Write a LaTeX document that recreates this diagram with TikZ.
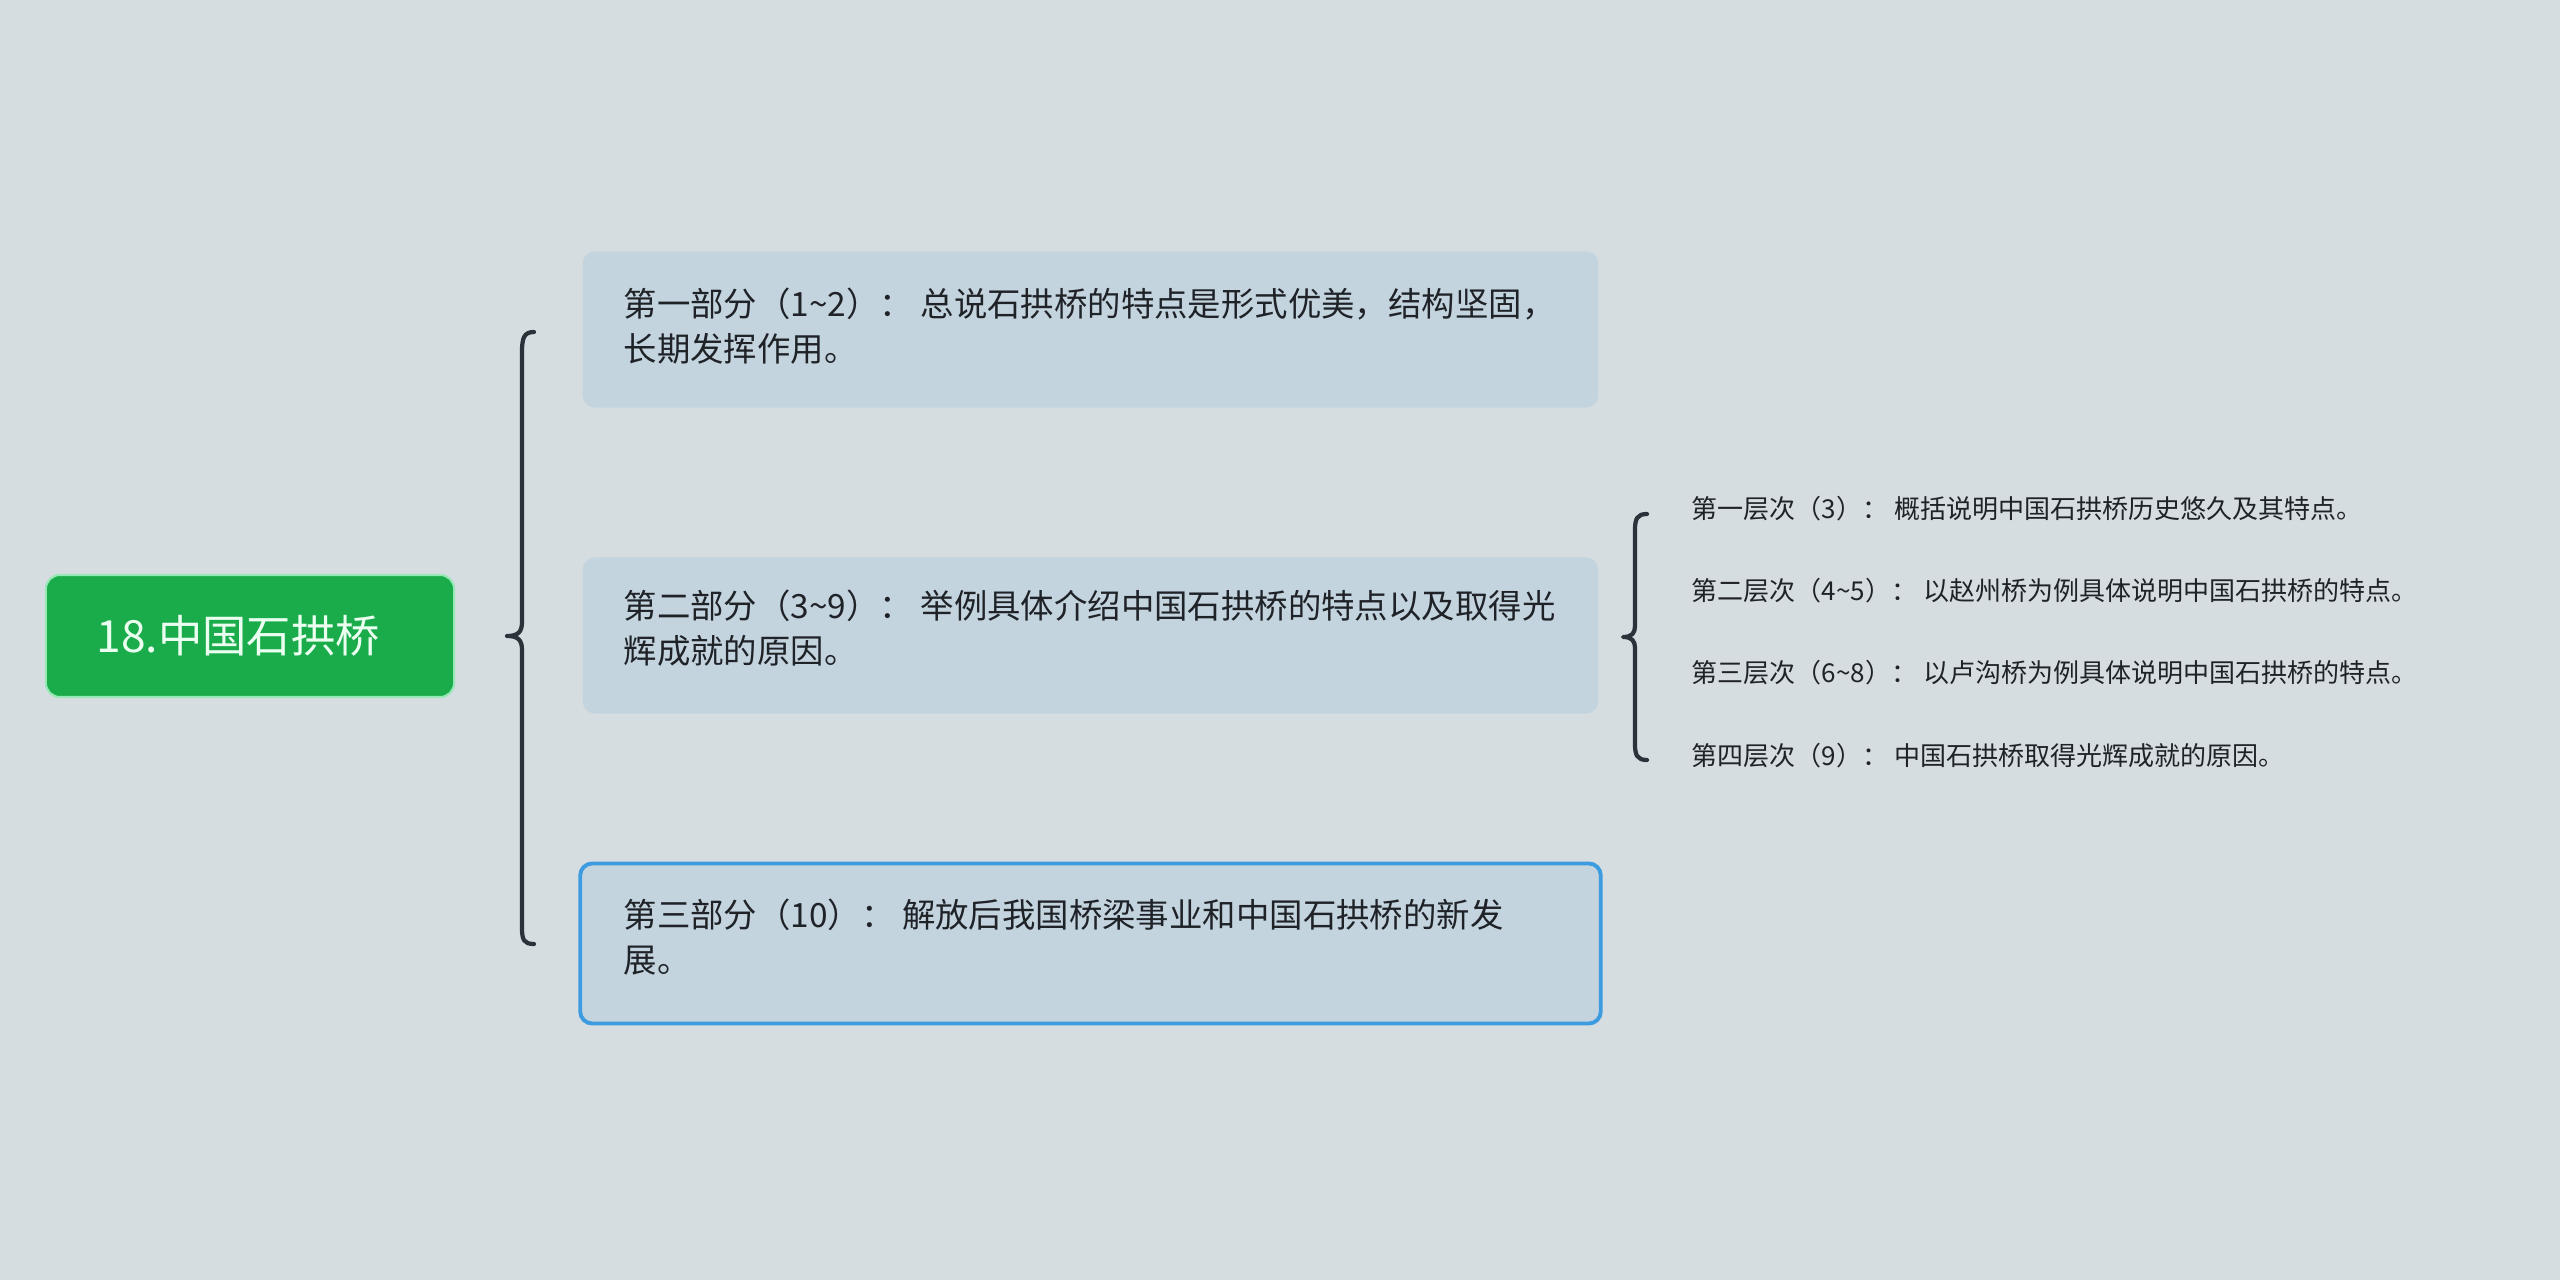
\documentclass[tikz,border=0pt]{standalone}
\usepackage{fontspec}
\setmainfont{Noto Sans CJK SC}
\definecolor{bgc}{RGB}{213,221,225}
\definecolor{boxc}{RGB}{196,212,223}
\definecolor{rootc}{RGB}{26,171,75}
\definecolor{rootedge}{RGB}{150,232,180}
\definecolor{rootfont}{RGB}{234,255,240}
\definecolor{bracec}{RGB}{43,50,58}
\definecolor{selc}{RGB}{61,155,224}
\definecolor{txtc}{RGB}{31,35,40}
\begin{document}
\begin{tikzpicture}[x=0.01cm,y=-0.01cm,
  rootbox/.style={draw=rootedge,line width=0.6pt,fill=rootc,rounded corners=0.14cm,minimum width=4.08cm,minimum height=1.22cm,inner sep=0pt},
  roottext/.style={inner sep=0pt,anchor=west,text=rootfont,font=\fontsize{12.6pt}{15pt}\selectfont},
  partbox/.style={fill=boxc,rounded corners=0.12cm,minimum width=10.15cm,minimum height=1.56cm,inner sep=0pt},
  selbox/.style={partbox,draw=selc,line width=1.1pt,minimum width=10.2cm,minimum height=1.6cm},
  parttext/.style={inner sep=0pt,anchor=west,align=left,text=txtc,font=\fontsize{9.5pt}{12.8pt}\selectfont},
  subtext/.style={inner sep=0pt,anchor=west,text=txtc,font=\fontsize{7.4pt}{9pt}\selectfont},
  bracestyle/.style={draw=bracec,line width=1.2pt,line cap=round,line join=round}]
\fill[bgc] (0,0) rectangle (2560,1280);
\useasboundingbox (0,0) rectangle (2560,1280);

\node[rootbox] (root) at (250,636) {};
\node[roottext] (roott) at (96,636) {18.中国石拱桥};

\node[partbox] (p1) at (1090.5,329.5) {};
\node[parttext] (p1t) at (623,326.5) {第一部分（1\textasciitilde 2）： 总说石拱桥的特点是形式优美，结构坚固，\\长期发挥作用。};

\node[partbox] (p2) at (1090.5,635.5) {};
\node[parttext] (p2t) at (623,628.5) {第二部分（3\textasciitilde 9）： 举例具体介绍中国石拱桥的特点以及取得光\\辉成就的原因。};

\node[selbox] (p3) at (1090.5,943.5) {};
\node[parttext] (p3t) at (623,937) {第三部分（10）： 解放后我国桥梁事业和中国石拱桥的新发\\展。};

\node[subtext] (s1) at (1691,509) {第一层次（3）： 概括说明中国石拱桥历史悠久及其特点。};
\node[subtext] (s2) at (1691,591) {第二层次（4\textasciitilde 5）： 以赵州桥为例具体说明中国石拱桥的特点。};
\node[subtext] (s3) at (1691,673) {第三层次（6\textasciitilde 8）： 以卢沟桥为例具体说明中国石拱桥的特点。};
\node[subtext] (s4) at (1691,756) {第四层次（9）： 中国石拱桥取得光辉成就的原因。};

% brace from root to the three parts
\draw[bracestyle] (534,332) .. controls (524,332) and (522,338) .. (522,352) -- (522,622)
  .. controls (522,632) and (518,636) .. (507,636)
  .. controls (518,636) and (522,640) .. (522,650) -- (522,928)
  .. controls (522,940) and (524,944) .. (534,944);

% brace from part two to its levels
\draw[bracestyle] (1647,514) .. controls (1637,514) and (1635,519) .. (1635,530) -- (1635,626)
  .. controls (1635,633) and (1632,637) .. (1623,637)
  .. controls (1632,637) and (1635,641) .. (1635,648) -- (1635,744)
  .. controls (1635,755) and (1637,760) .. (1647,760);
\end{tikzpicture}
\end{document}
